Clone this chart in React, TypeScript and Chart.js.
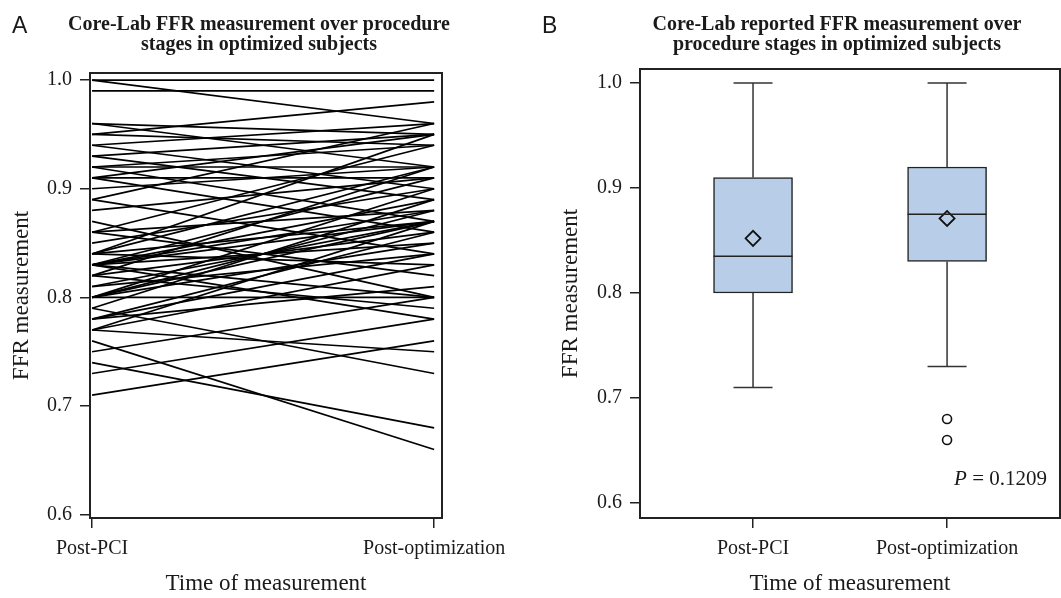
import React, { useEffect, useRef } from "react";
import { Chart, registerables } from "chart.js";

Chart.register(...registerables);

// ---------- data ----------
const stages = ["Post-PCI", "Post-optimization"];
const yTickValues = [0.6, 0.7, 0.8, 0.9, 1.0];

// Panel A: paired subject values
const postPCI = [
  1.0, 1.0, 0.99, 0.96, 0.96, 0.95, 0.95, 0.94, 0.94, 0.93,
  0.93, 0.92, 0.92, 0.92, 0.91, 0.91, 0.91, 0.9, 0.89, 0.89,
  0.88, 0.87, 0.86, 0.86, 0.86, 0.85, 0.84, 0.84, 0.84, 0.84,
  0.83, 0.83, 0.83, 0.83, 0.83, 0.83, 0.83, 0.82, 0.82, 0.82,
  0.81, 0.81, 0.8, 0.8, 0.8, 0.8, 0.8, 0.79, 0.79, 0.78,
  0.78, 0.78, 0.77, 0.77, 0.77, 0.76, 0.75, 0.74, 0.73, 0.71,
];
const postOptimization = [
  1.0, 0.96, 0.99, 0.95, 0.92, 0.98, 0.94, 0.96, 0.9, 0.95,
  0.89, 0.94, 0.92, 0.87, 0.95, 0.91, 0.86, 0.92, 0.96, 0.84,
  0.91, 0.8, 0.94, 0.88, 0.82, 0.9, 0.92, 0.87, 0.83, 0.95,
  0.89, 0.87, 0.91, 0.85, 0.8, 0.88, 0.78, 0.92, 0.86, 0.79,
  0.87, 0.84, 0.9, 0.88, 0.8, 0.87, 0.85, 0.89, 0.73, 0.86,
  0.84, 0.81, 0.87, 0.83, 0.75, 0.66, 0.8, 0.68, 0.78, 0.76,
];

// Panel B: box plot statistics
const boxQ1 = [0.8, 0.83];
const boxMedian = [0.835, 0.875];
const boxQ3 = [0.91, 0.92];
const boxMean = [0.852, 0.871];
const whiskerLow = [0.71, 0.73];
const whiskerHigh = [1.0, 1.0];
const outlierStage = [1, 1];
const outlierValue = [0.68, 0.66];
const pValue = "0.1209";

const titleA = ["Core-Lab FFR measurement over procedure", "stages in optimized subjects"];
const titleB = ["Core-Lab reported FFR measurement over", "procedure stages in optimized subjects"];

// ---------- styling ----------
const SERIF = '"Liberation Serif", "Times New Roman", serif';
const SANS = '"Liberation Sans", Arial, sans-serif';
const INK = "#1a1a1a";

function panelPlugin(letter: string, lines: string[], cx: number, extra?: (c: any) => void) {
  return {
    id: "panelDecor" + letter,
    afterDraw(chart: any) {
      const ctx = chart.ctx as CanvasRenderingContext2D;
      ctx.save();
      ctx.fillStyle = INK;
      ctx.textBaseline = "alphabetic";
      ctx.textAlign = "left";
      ctx.font = `23px ${SANS}`;
      ctx.fillText(letter, 12, 33);
      ctx.font = `bold 20px ${SERIF}`;
      ctx.textAlign = "center";
      lines.forEach((l, i) => ctx.fillText(l, cx, 30 + i * 20));
      const { left, top, right, bottom } = chart.chartArea;
      ctx.strokeStyle = "#222";
      ctx.lineWidth = 2;
      ctx.strokeRect(left, top, right - left, bottom - top);
      if (extra) extra(chart);
      ctx.restore();
    },
  };
}

function axisCommon(min: number, max: number) {
  return {
    type: "linear" as const,
    min,
    max,
    offset: false,
    border: { display: true, color: "#222", width: 2 },
    grid: { drawOnChartArea: false, drawTicks: true, tickLength: 10, color: "#222", lineWidth: 1.5, offset: false },
  };
}

function xScale(min: number, max: number) {
  return {
    ...axisCommon(min, max),
    afterBuildTicks: (s: any) => {
      s.ticks = stages.map((_, i) => ({ value: i }));
    },
    afterFit: (s: any) => {
      s.height = 80;
      s.paddingLeft = 0;
      s.paddingRight = 0;
    },
    ticks: {
      autoSkip: false,
      maxRotation: 0,
      padding: 9,
      color: INK,
      font: { family: SERIF, size: 20 },
      callback: (v: any) => stages[Number(v)] ?? "",
    },
    title: {
      display: true,
      text: "Time of measurement",
      color: INK,
      font: { family: SERIF, size: 23 },
      padding: { top: 0, bottom: 0 },
    },
  };
}

function yScale(min: number, max: number, width: number, titlePad: number) {
  return {
    ...axisCommon(min, max),
    afterBuildTicks: (s: any) => {
      s.ticks = yTickValues.map((v) => ({ value: v }));
    },
    afterFit: (s: any) => {
      s.width = width;
      s.paddingTop = 0;
      s.paddingBottom = 0;
    },
    ticks: {
      padding: 8,
      color: INK,
      font: { family: SERIF, size: 20 },
      callback: (v: any) => Number(v).toFixed(1),
    },
    title: {
      display: true,
      text: "FFR measurement",
      color: INK,
      font: { family: SERIF, size: 23 },
      padding: { top: titlePad, bottom: 0 },
    },
  };
}

export default function App() {
  const refA = useRef<HTMLCanvasElement | null>(null);
  const refB = useRef<HTMLCanvasElement | null>(null);

  useEffect(() => {
    const common = {
      animation: false as const,
      responsive: false,
      events: [] as any[],
      plugins: { legend: { display: false }, tooltip: { enabled: false }, title: { display: false } },
    };

    // ----- Panel A -----
    const lineSets = postPCI.map((v, i) => ({
      data: [
        { x: 0, y: v },
        { x: 1, y: postOptimization[i] },
      ],
      showLine: true,
      borderColor: "#000",
      borderWidth: 1.7,
      pointRadius: 0,
      fill: false,
    }));

    const chartA = new Chart(refA.current as HTMLCanvasElement, {
      type: "scatter",
      data: { datasets: lineSets as any },
      options: {
        ...common,
        layout: { autoPadding: false, padding: { left: 0, top: 73, right: 88, bottom: 0 } },
        scales: {
          x: xScale(-0.006, 1.023) as any,
          y: yScale(0.597, 1.0065, 90, 8) as any,
        },
      } as any,
      plugins: [panelPlugin("A", titleA, 259)],
    });

    // ----- Panel B -----
    const whiskerSets: any[] = [];
    stages.forEach((_, i) => {
      whiskerSets.push({
        data: [
          { x: i, y: boxQ3[i] },
          { x: i, y: whiskerHigh[i] },
        ],
        showLine: true,
        borderColor: "#333",
        borderWidth: 1.5,
        pointRadius: 0,
        order: 1,
      });
      whiskerSets.push({
        data: [
          { x: i, y: boxQ1[i] },
          { x: i, y: whiskerLow[i] },
        ],
        showLine: true,
        borderColor: "#333",
        borderWidth: 1.5,
        pointRadius: 0,
        order: 1,
      });
    });

    const capSet = {
      data: stages.flatMap((_, i) => [
        { x: i, y: whiskerHigh[i] },
        { x: i, y: whiskerLow[i] },
      ]),
      pointStyle: "line",
      pointRadius: 19.5,
      borderColor: "#333",
      pointBorderColor: "#333",
      pointBorderWidth: 1.5,
      order: 1,
    };

    const medianSet = {
      data: stages.map((_, i) => ({ x: i, y: boxMedian[i] })),
      pointStyle: "line",
      pointRadius: 39.5,
      pointBorderColor: "#222",
      pointBorderWidth: 1.5,
      order: 0,
    };

    const meanSet = {
      data: stages.map((_, i) => ({ x: i, y: boxMean[i] })),
      pointStyle: "rectRot",
      pointRadius: 7.5,
      pointBackgroundColor: "rgba(0,0,0,0)",
      pointBorderColor: "#111",
      pointBorderWidth: 1.8,
      order: 0,
    };

    const outlierSet = {
      data: outlierStage.map((s, i) => ({ x: s, y: outlierValue[i] })),
      pointStyle: "circle",
      pointRadius: 4.5,
      pointBackgroundColor: "rgba(0,0,0,0)",
      pointBorderColor: "#111",
      pointBorderWidth: 1.6,
      order: 0,
    };

    const boxSet = {
      type: "bar",
      data: stages.map((_, i) => ({ x: i, y: [boxQ1[i], boxQ3[i]] })),
      backgroundColor: "#b8cee8",
      borderColor: "#222",
      borderWidth: 1.5,
      borderSkipped: false,
      barThickness: 79,
      order: 5,
    };

    const drawP = (chart: any) => {
      const ctx = chart.ctx as CanvasRenderingContext2D;
      const xs = chart.scales.x;
      const ys = chart.scales.y;
      const x0 = xs.getPixelForValue(1) + 7;
      const y0 = ys.getPixelForValue(0.6) - 18;
      ctx.fillStyle = INK;
      ctx.textAlign = "left";
      ctx.textBaseline = "alphabetic";
      ctx.font = `italic 21px ${SERIF}`;
      ctx.fillText("P", x0, y0);
      const w = ctx.measureText("P").width;
      ctx.font = `21px ${SERIF}`;
      ctx.fillText(" = " + pValue, x0 + w, y0);
    };

    const chartB = new Chart(refB.current as HTMLCanvasElement, {
      type: "scatter",
      data: { datasets: [medianSet, meanSet, outlierSet, capSet, ...whiskerSets, boxSet] as any },
      options: {
        ...common,
        layout: { autoPadding: false, padding: { left: 0, top: 69, right: 1, bottom: 0 } },
        scales: {
          x: xScale(-0.5825, 1.582) as any,
          y: yScale(0.5857, 1.0133, 110, 27) as any,
        },
      } as any,
      plugins: [panelPlugin("B", titleB, 307, drawP)],
    });

    return () => {
      chartA.destroy();
      chartB.destroy();
    };
  }, []);

  return (
    <div style={{ position: "fixed", left: 0, top: 0, width: 1061, height: 598, background: "#fff" }}>
      <canvas ref={refA} width={530} height={598} style={{ position: "absolute", left: 0, top: 0 }} />
      <canvas ref={refB} width={531} height={598} style={{ position: "absolute", left: 530, top: 0 }} />
    </div>
  );
}
